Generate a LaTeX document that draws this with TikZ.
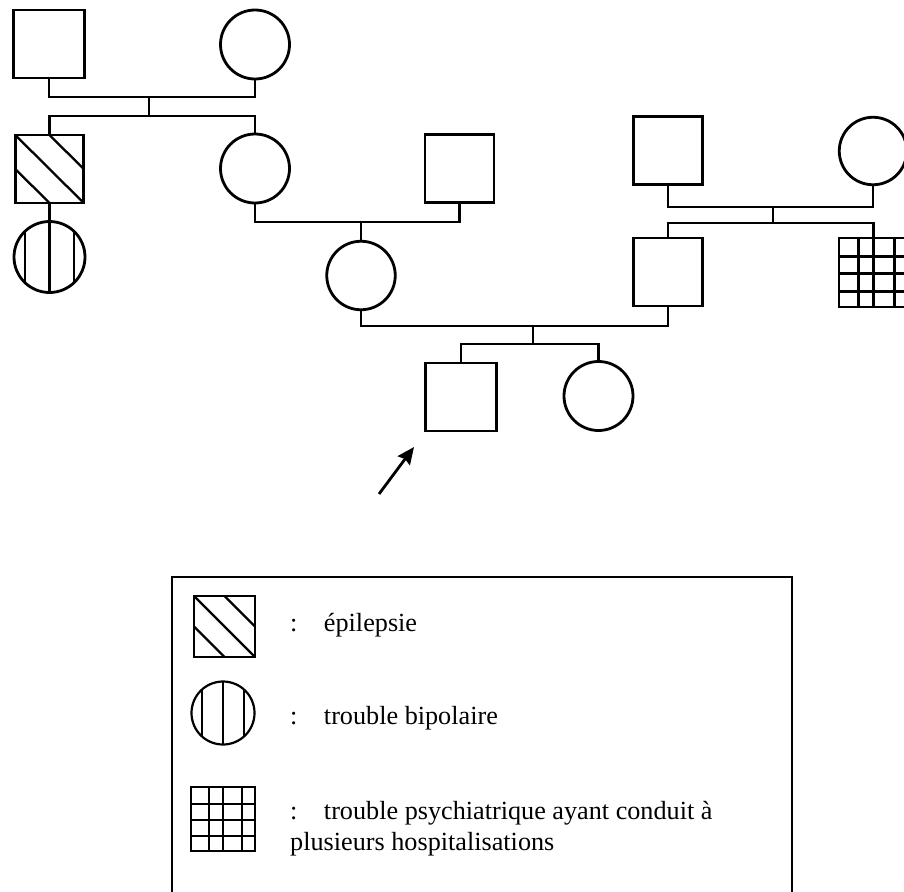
\documentclass[tikz,border=0pt]{standalone}
\usepackage{fontspec}
\setmainfont{Liberation Serif}
\usetikzlibrary{calc,arrows.meta}
\tikzset{
  lw/.style={line width=2.8pt},
  slw/.style={line width=2.3pt},
  male/.style={draw, lw, rectangle, minimum width=69pt, minimum height=68pt, inner sep=0pt},
  female/.style={draw, lw, circle, minimum size=69pt, inner sep=0pt},
  link/.style={lw},
  hatchfill/.style={path picture={
    \draw[#1] (path picture bounding box.north west) -- (path picture bounding box.south east)
      (path picture bounding box.north) -- (path picture bounding box.east)
      (path picture bounding box.west) -- (path picture bounding box.south);}},
  stripefill/.style={path picture={
    \foreach \dx in {-#1,0,#1}
      \draw[slw] ([xshift=\dx pt]path picture bounding box.north) -- ([xshift=\dx pt]path picture bounding box.south);}},
  gridfill/.style={path picture={
    \foreach \f in {0.28,0.5,0.8}
      \draw[#1] ($(path picture bounding box.north west)!\f!(path picture bounding box.north east)$) -- ($(path picture bounding box.south west)!\f!(path picture bounding box.south east)$);
    \foreach \f in {0.27,0.52,0.77}
      \draw[#1] ($(path picture bounding box.north west)!\f!(path picture bounding box.south west)$) -- ($(path picture bounding box.north east)!\f!(path picture bounding box.south east)$);}},
  lsym/.style={draw, line width=2.2pt, inner sep=0pt},
  legtext/.style={anchor=base west, inner sep=0pt, font=\fontsize{26.2}{31}\selectfont},
  legbox/.style={line width=2.6pt}
}
\begin{document}
\begin{tikzpicture}[x=1pt, y=-1pt]
\useasboundingbox (0,0) rectangle (904,891);
\clip (0,0) rectangle (904,891);

% generation I
\node[male, minimum width=71.5pt] (A) at (49,44) {};
\node[female] (B) at (255,44.5) {};
% generation II
\node[male, hatchfill=slw, minimum width=68.5pt] (C) at (49.5,169) {};
\node[female] (D) at (255,168.5) {};
\node[male] (F) at (459.5,168.5) {};
\node[male] (H) at (668,150.5) {};
\node[female, minimum size=67.5pt] (I) at (873,151) {};
% generation III
\node[female, minimum size=71pt, stripefill=24.5] (E) at (49.5,257) {};
\node[female, minimum size=68.5pt] (G) at (361,275.5) {};
\node[male] (J) at (668,272) {};
\node[male, gridfill=lw, minimum height=69pt] (K) at (873.5,272.5) {};
% generation IV
\node[male, minimum width=71.5pt] (L) at (461,397) {};
\node[female] (M) at (598.5,396) {};

% connectors
\coordinate (mAB) at (149,97);
\coordinate (sAB) at (149,116);
\draw[link] (A.south) |- (mAB) -| (B.south);
\draw[link] (mAB) -- (sAB);
\draw[link] (C.north) |- (sAB) -| (D.north);
\draw[link] (C.south) -- (E.north);

\coordinate (mDF) at (361,222);
\draw[link] (D.south) |- (mDF) -| (F.south);
\draw[link] (mDF) -- (G.north);

\coordinate (mHI) at (773,207);
\coordinate (sHI) at (773,223);
\draw[link] (H.south) |- (mHI) -| (I.south);
\draw[link] (mHI) -- (sHI);
\draw[link] (J.north) |- (sHI) -| (K.north);

\coordinate (mGJ) at (533,326);
\coordinate (sGJ) at (533,344);
\draw[link] (G.south) |- (mGJ) -| (J.south);
\draw[link] (mGJ) -- (sGJ);
\draw[link] (L.north) |- (sGJ) -| (M.north);

% proband arrow
\coordinate (arrT) at (379,494);
\coordinate (arrH) at (414,447);
\draw[link, -{Stealth[length=17pt,width=15pt,inset=2pt]}] (arrT) -- (arrH);

% legend
\draw[legbox] (172,577) rectangle (792,910);
\node[lsym, rectangle, minimum size=61pt, hatchfill=slw] (L1) at (224.5,626.5) {};
\node[lsym, circle, minimum size=63pt, stripefill=21] (L2) at (223,713) {};
\node[lsym, rectangle, minimum size=64pt, gridfill=slw] (L3) at (223,819) {};
\node[legtext] (T1) at (290,631.7) {:\hspace{26.5pt}épilepsie};
\node[legtext] (T2) at (290,724) {:\hspace{26.5pt}trouble bipolaire};
\node[legtext] (T3) at (290,819.3) {:\hspace{26.5pt}trouble psychiatrique ayant conduit à};
\node[legtext] (T4) at (290,850.7) {plusieurs hospitalisations};
\end{tikzpicture}
\end{document}
